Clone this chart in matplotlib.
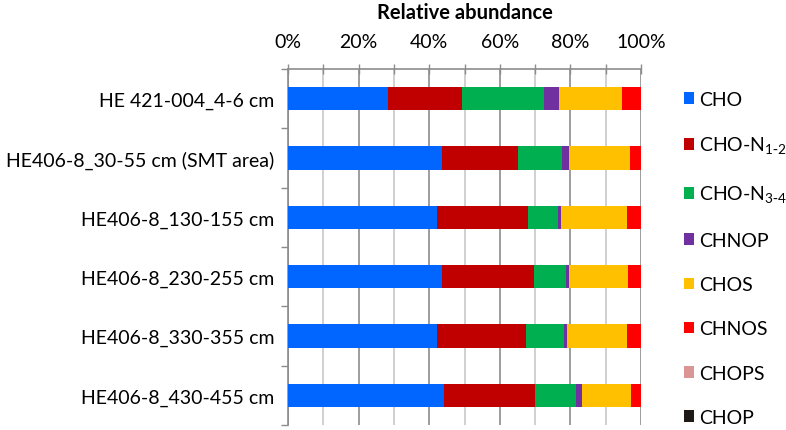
import numpy as np
import matplotlib as mpl
import matplotlib.pyplot as plt

plt.rcParams['font.family'] = ['Lato', 'DejaVu Sans']

samples = [
    "HE 421-004_4-6 cm",
    "HE406-8_30-55 cm (SMT area)",
    "HE406-8_130-155 cm",
    "HE406-8_230-255 cm",
    "HE406-8_330-355 cm",
    "HE406-8_430-455 cm",
]
groups = ["CHO", r"CHO-N$_{\mathregular{1\text{-}2}}$", r"CHO-N$_{\mathregular{3\text{-}4}}$",
          "CHNOP", "CHOS", "CHNOS", "CHOPS", "CHOP"]

# percent of total per sample
cho = [28.4, 43.5, 42.1, 43.6, 42.1, 44.2]
cho_n12 = [20.8, 21.7, 25.8, 26.1, 25.4, 25.8]
cho_n34 = [23.3, 12.3, 8.6, 9.0, 10.7, 11.7]
chnop = [4.3, 2.2, 0.8, 1.0, 0.9, 1.6]
chos = [17.9, 17.2, 18.6, 16.6, 17.0, 13.9]
chnos = [5.3, 3.1, 4.1, 3.7, 3.9, 2.8]
chops = [0, 0, 0, 0, 0, 0]
chop = [0, 0, 0, 0, 0, 0]

colors = ["#0066FF", "#C00000", "#00B050", "#7030A0",
          "#FFC000", "#FF0000", "#D99694", "#1F1A17"]

series = [cho, cho_n12, cho_n34, chnop, chos, chnos, chops, chop]

fig = plt.figure(figsize=(7.86, 4.31), dpi=100)
ax = fig.add_axes([288 / 786, 1 - 426 / 431, (641 - 288) / 786, (426 - 70) / 431])

y = np.arange(len(samples))
left = np.zeros(len(samples))
handles = []
for vals, name, col in zip(series, groups, colors):
    vals = np.array(vals, dtype=float)
    h = ax.barh(y, vals, left=left, height=0.395, color=col, label=name, zorder=3)
    handles.append(h)
    left += vals

ax.set_xlim(0, 100)
ax.set_ylim(len(samples) - 0.5, -0.5)

ax.set_xticks(np.arange(0, 101, 20))
ax.set_xticks(np.arange(10, 100, 20), minor=True)
ax.set_xticklabels(["%d%%" % v for v in range(0, 101, 20)])
ax.xaxis.tick_top()
ax.tick_params(axis='x', which='both', direction='inout', length=7, width=1,
               color='#8c8c8c', labelsize=14, pad=10, labelcolor='black')
ax.grid(axis='x', which='major', color='#8c8c8c', lw=1.2, zorder=0)
ax.grid(axis='x', which='minor', color='#c8c8c8', lw=1.2, zorder=0)

ax.set_yticks(y)
ax.set_yticklabels(samples)
ax.set_yticks(np.arange(-0.5, len(samples), 1), minor=True)
ax.tick_params(axis='y', which='major', length=0, labelsize=14, pad=10)
ax.tick_params(axis='y', which='minor', length=5, color='#8c8c8c', width=1)

for s in ['bottom', 'right']:
    ax.spines[s].set_visible(False)
ax.spines['top'].set_color('#8c8c8c')
ax.spines['left'].set_color('#8c8c8c')
ax.spines['top'].set_linewidth(1.2)
ax.spines['left'].set_linewidth(1.2)

ax.set_title("Relative abundance", fontsize=14.5, fontweight='bold', pad=37)

fig.legend(handles=handles, loc='upper left', bbox_to_anchor=(676 / 786, 1 - 84 / 431),
           frameon=False, fontsize=14, handlelength=0.55, handleheight=0.55,
           handletextpad=0.25, labelspacing=1.40, borderaxespad=0)

fig.savefig("out.png", dpi=100)
